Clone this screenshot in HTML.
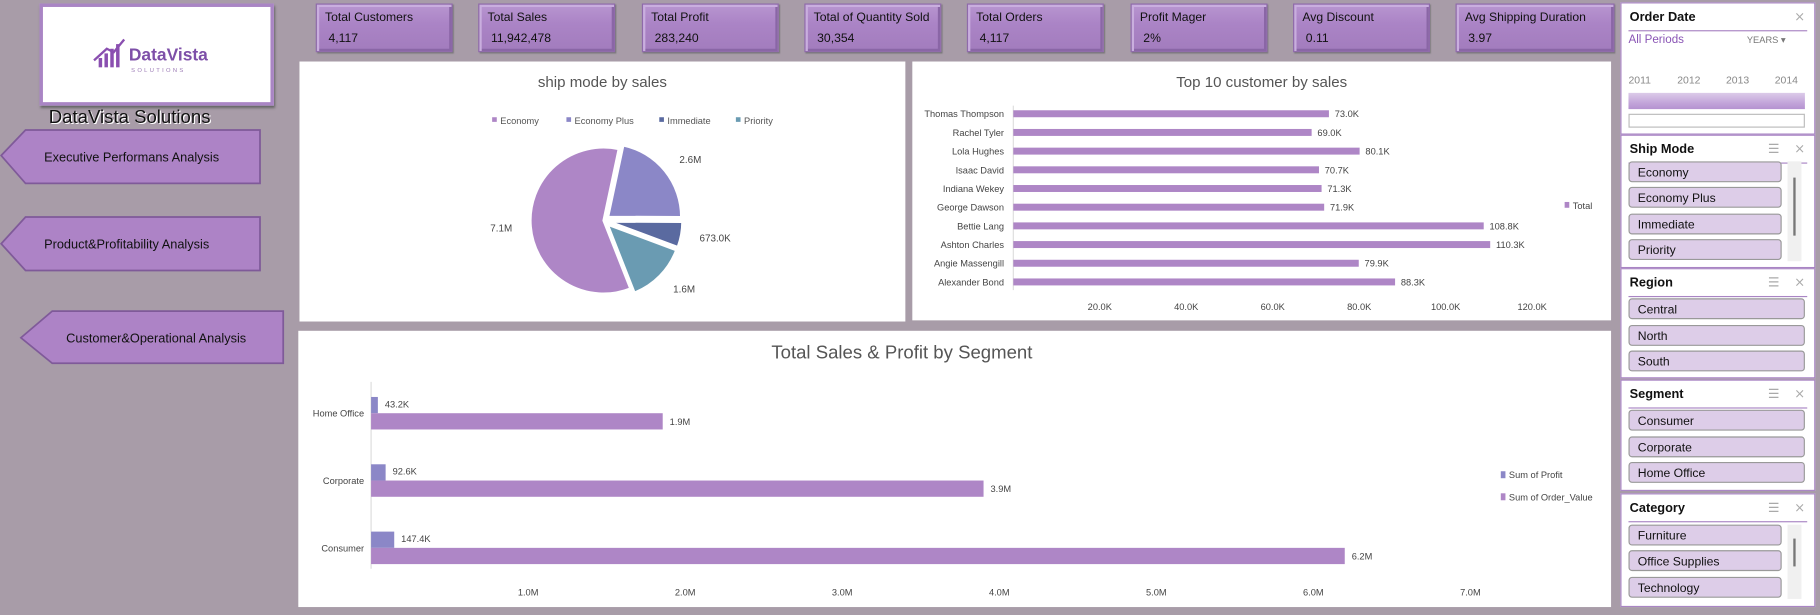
<!DOCTYPE html>
<html><head><meta charset="utf-8">
<style>
html,body{margin:0;padding:0;width:1820px;height:615px;overflow:hidden;background:#a89ca8;}
#root{position:absolute;left:0;top:0;width:1568px;height:530px;transform:scale(1.16071);transform-origin:0 0;font-family:"Liberation Sans",sans-serif;}
.abs{position:absolute;}
.kpi{position:absolute;top:3px;height:40px;background:linear-gradient(#b896d0,#ab84c6 40%,#a27cbd);border:1px solid #8f6aab;box-shadow:inset 2px 2px 0 #c9aede,inset -2px -2px 0 #8a66a6,1px 1px 1px #777;font-size:10.5px;color:#111;}
.kpi .t{position:absolute;left:7px;top:5px;}
.kpi .v{position:absolute;left:10px;top:23px;}
.panel{position:absolute;background:#fff;}
.slicer{position:absolute;left:1396px;width:166px;background:#fff;border:1px solid #a985c4;}
.slicer .h{position:absolute;left:7px;top:6px;font-size:11px;font-weight:bold;color:#111;}
.slicer .ln{position:absolute;left:6px;right:6px;top:23px;height:1px;background:#a985c4;}
.item{position:absolute;left:6px;height:18px;background:#ddcde8;border:1px solid #999;border-radius:3px;font-size:10.5px;line-height:18px;padding-left:7px;box-sizing:border-box;color:#111;}
.ico{position:absolute;top:5px;font-size:11px;color:#aaa;}
.nav{position:absolute;height:46px;}
</style></head><body>
<div id="root">
 <div class="abs" style="left:34px;top:3px;width:196px;height:82px;background:#fff;border:3px solid #a985c4;box-shadow:1px 2px 2px #666;">
  <svg width="196" height="82">
   <g fill="#8a4fb0"><rect x="48" y="44" width="3" height="8"/><rect x="53" y="40" width="3" height="12"/><rect x="58" y="36" width="3" height="16"/><rect x="63" y="32" width="3" height="20"/></g>
   <path d="M44 46 L55 36 L61 39 L70 28" stroke="#8a4fb0" stroke-width="2" fill="none"/>
   <text x="74" y="46" font-size="15" font-weight="bold" fill="#7d4fa8" font-family="Liberation Sans">DataVista</text>
   <text x="76" y="56" font-size="5" letter-spacing="2" fill="#9b7ab5" font-family="Liberation Sans">SOLUTIONS</text>
  </svg>
 </div>
 <div class="abs" style="left:42px;top:93px;font-size:16px;color:#111;text-shadow:1px 1px 0 #fff;">DataVista Solutions</div>

 <svg class="abs" style="left:0;top:110px" width="250" height="210">
  <g><polygon points="1,24 22,2 224,2 224,48 22,48" fill="#ad83c6" stroke="#7f5a99" stroke-width="1.5"/><text x="38" y="29" font-size="11" fill="#111" font-family="Liberation Sans">Executive Performans Analysis</text></g>
  <g><polygon points="1,100 22,77 224,77 224,123 22,123" fill="#ad83c6" stroke="#7f5a99" stroke-width="1.5"/><text x="38" y="104" font-size="11" fill="#111" font-family="Liberation Sans">Product&amp;Profitability Analysis</text></g>
  <g><polygon points="18,181 45,158 244,158 244,203 45,203" fill="#ad83c6" stroke="#7f5a99" stroke-width="1.5"/><text x="57" y="185" font-size="11" fill="#111" font-family="Liberation Sans">Customer&amp;Operational Analysis</text></g>
 </svg>

 <div class="kpi" style="left:272px;width:116px"><span class="t">Total Customers</span><span class="v">4,117</span></div>
 <div class="kpi" style="left:412px;width:116px"><span class="t">Total Sales</span><span class="v">11,942,478</span></div>
 <div class="kpi" style="left:553px;width:116px"><span class="t">Total Profit</span><span class="v">283,240</span></div>
 <div class="kpi" style="left:693px;width:116px"><span class="t">Total of Quantity Sold</span><span class="v">30,354</span></div>
 <div class="kpi" style="left:833px;width:116px"><span class="t">Total Orders</span><span class="v">4,117</span></div>
 <div class="kpi" style="left:974px;width:116px"><span class="t">Profit Mager</span><span class="v">2%</span></div>
 <div class="kpi" style="left:1114px;width:116px"><span class="t">Avg Discount</span><span class="v">0.11</span></div>
 <div class="kpi" style="left:1254px;width:135px"><span class="t">Avg Shipping Duration</span><span class="v">3.97</span></div>

 <div class="panel" style="left:258px;top:53px;width:522px;height:224px"><svg id="pie" width="522" height="224"></svg></div>
 <div class="panel" style="left:786px;top:53px;width:602px;height:223px"><svg id="top10" width="602" height="223"></svg></div>
 <div class="panel" style="left:257px;top:285px;width:1131px;height:238px"><svg id="seg" width="1131" height="238"></svg></div>

 <div class="slicer" style="top:2px;height:112px">
  <span class="h">Order Date</span><span class="ico" style="right:8px">⨯</span><div class="ln"></div>
  <span class="abs" style="left:6px;top:26px;font-size:10px;color:#8a55b5">All Periods</span>
  <span class="abs" style="left:108px;top:27px;font-size:8px;color:#777">YEARS ▾</span>
  <span class="abs" style="left:6px;top:61px;font-size:9px;color:#888">2011</span><span class="abs" style="left:48px;top:61px;font-size:9px;color:#888">2012</span><span class="abs" style="left:90px;top:61px;font-size:9px;color:#888">2013</span><span class="abs" style="left:132px;top:61px;font-size:9px;color:#888">2014</span>
  <div class="abs" style="left:6px;top:77px;width:152px;height:14px;background:linear-gradient(#dccbe9,#c3a6da 60%,#b592d0);"></div>
  <div class="abs" style="left:6px;top:95px;width:152px;height:12px;border:1px solid #bbb;box-sizing:border-box;"></div>
 </div>

 <div class="slicer" style="top:116px;height:113px">
  <span class="h">Ship Mode</span><span class="ico" style="right:30px">☰</span><span class="ico" style="right:8px">⨯</span><div class="ln"></div>
  <div class="item" style="top:22px;width:132px">Economy</div>
  <div class="item" style="top:44px;width:132px">Economy Plus</div>
  <div class="item" style="top:67px;width:132px">Immediate</div>
  <div class="item" style="top:89px;width:132px">Priority</div>
  <div class="abs" style="left:143px;top:22px;width:12px;height:86px;background:#f0f0f0"><div style="margin:14px 0 0 5px;width:2px;height:50px;background:#777"></div></div>
 </div>

 <div class="slicer" style="top:231px;height:93px">
  <span class="h">Region</span><span class="ico" style="right:30px">☰</span><span class="ico" style="right:8px">⨯</span><div class="ln"></div>
  <div class="item" style="top:25px;width:152px">Central</div>
  <div class="item" style="top:48px;width:152px">North</div>
  <div class="item" style="top:70px;width:152px">South</div>
 </div>

 <div class="slicer" style="top:327px;height:94px">
  <span class="h">Segment</span><span class="ico" style="right:30px">☰</span><span class="ico" style="right:8px">⨯</span><div class="ln"></div>
  <div class="item" style="top:25px;width:152px">Consumer</div>
  <div class="item" style="top:48px;width:152px">Corporate</div>
  <div class="item" style="top:70px;width:152px">Home Office</div>
 </div>

 <div class="slicer" style="top:425px;height:96px">
  <span class="h">Category</span><span class="ico" style="right:30px">☰</span><span class="ico" style="right:8px">⨯</span><div class="ln"></div>
  <div class="item" style="top:26px;width:132px">Furniture</div>
  <div class="item" style="top:48px;width:132px">Office Supplies</div>
  <div class="item" style="top:71px;width:132px">Technology</div>
  <div class="abs" style="left:143px;top:26px;width:12px;height:64px;background:#f0f0f0"><div style="margin:12px 0 0 5px;width:2px;height:24px;background:#777"></div></div>
 </div>
</div>
<script>
const NS='http://www.w3.org/2000/svg';
function mk(p,tag,a,txt){const e=document.createElementNS(NS,tag);for(const k in a)e.setAttribute(k,a[k]);if(txt!==undefined)e.textContent=txt;p.appendChild(e);return e;}

// ---------- Pie data ----------
const pieCats=['Economy','Economy Plus','Immediate','Priority'];
const pieVals=[7.1,2.6,0.673,1.6];
const pieLabels=['7.1M','2.6M','673.0K','1.6M'];
const pieColors=['#ae86c6','#8b87c7','#5a6aa0','#6a9bb2'];

// ---------- Top 10 data ----------
const custNames=['Thomas Thompson','Rachel Tyler','Lola Hughes','Isaac David','Indiana Wekey','George Dawson','Bettie Lang','Ashton Charles','Angie Massengill','Alexander Bond'];
const custVals=[73.0,69.0,80.1,70.7,71.3,71.9,108.8,110.3,79.9,88.3];
const custTicks=[20,40,60,80,100,120];

// ---------- Segment data ----------
const segCats=['Home Office','Corporate','Consumer'];
const segProfit=[0.0432,0.0926,0.1474];
const segProfitLabels=['43.2K','92.6K','147.4K'];
const segSales=[1.857,3.90,6.20];
const segSalesLabels=['1.9M','3.9M','6.2M'];
const segTicks=[1,2,3,4,5,6,7];

const F='Liberation Sans';
// Pie
(function(){
 const s=document.getElementById('pie');
 mk(s,'text',{x:261,y:22,'font-size':13,'text-anchor':'middle',fill:'#555','font-family':F},'ship mode by sales');
 const lx=[166,230,310,376];
 pieCats.forEach((c,i)=>{const g=mk(s,'g',{});
  mk(g,'rect',{x:lx[i],y:48,width:4,height:4,fill:pieColors[i]});mk(g,'text',{x:lx[i]+7,y:54,'font-size':8,fill:'#555','font-family':F},c);});
 const cx=262,cy=137,r=63,tot=pieVals.reduce((a,b)=>a+b,0);
 const order=[1,2,3,0];let ang=12;
 order.forEach(i=>{const sw=pieVals[i]/tot*360;const a0=ang,a1=ang+sw,mid=(a0+a1)/2*Math.PI/180;
  const ex=i===0?0:5;const ox=cx+ex*Math.sin(mid),oy=cy-ex*Math.cos(mid);
  const p=(a)=>[ox+r*Math.sin(a*Math.PI/180),oy-r*Math.cos(a*Math.PI/180)];
  const [x0,y0]=p(a0),[x1,y1]=p(a1);
  const e=mk(s,'path',{d:`M${ox},${oy}L${x0},${y0}A${r},${r} 0 ${sw>180?1:0} 1 ${x1},${y1}Z`,fill:pieColors[i],stroke:'#fff','stroke-width':2});
  
  
  const lr=r+16;let lxp=ox+lr*Math.sin(mid),lyp=oy-lr*Math.cos(mid)+3;
  mk(s,'text',{x:lxp,y:lyp,'font-size':8.5,fill:'#444','text-anchor':Math.sin(mid)>0.2?'start':(Math.sin(mid)<-0.2?'end':'middle'),'font-family':F},pieLabels[i]);
  ang=a1;});
})();
// Top 10
(function(){
 const s=document.getElementById('top10');
 mk(s,'text',{x:301,y:22,'font-size':13,'text-anchor':'middle',fill:'#555','font-family':F},'Top 10 customer by sales');
 const x0=87,k=3.725,y0=45,step=16.1;
 const X=v=>x0+v*k;
 mk(s,'line',{x1:x0,y1:38,x2:x0,y2:197,stroke:'#ddd'});
 custNames.forEach((n,i)=>{const yc=y0+i*step;
  mk(s,'text',{x:x0-8,y:yc+3,'font-size':8,'text-anchor':'end',fill:'#444','font-family':F},n);
  const b=mk(s,'rect',{x:x0,y:yc-3,width:X(custVals[i])-x0,height:6,fill:'#ae86c6'});
  
  
  mk(s,'text',{x:X(custVals[i])+5,y:yc+3,'font-size':8,fill:'#444','font-family':F},custVals[i].toFixed(1)+'K');});
 custTicks.forEach(t=>mk(s,'text',{x:X(t),y:214,'font-size':8,'text-anchor':'middle',fill:'#444','font-family':F},t.toFixed(1)+'K'));
 mk(s,'rect',{x:562,y:121,width:4,height:5,fill:'#ae86c6'});
 mk(s,'text',{x:569,y:127,'font-size':8,fill:'#444','font-family':F},'Total');
})();
// Segment
(function(){
 const s=document.getElementById('seg');
 mk(s,'text',{x:520,y:24,'font-size':16,'text-anchor':'middle',fill:'#555','font-family':F},'Total Sales & Profit by Segment');
 const x0=62.7,k=135.3;const X=v=>x0+v*k;
 const yc=[71,129,187];
 mk(s,'line',{x1:x0,y1:44,x2:x0,y2:205,stroke:'#ddd'});
 segCats.forEach((c,i)=>{
  mk(s,'text',{x:x0-6,y:yc[i]+3,'font-size':8,'text-anchor':'end',fill:'#444','font-family':F},c);
  const p=mk(s,'rect',{x:x0,y:yc[i]-14,width:X(segProfit[i])-x0,height:14,fill:'#8b87c7'});
  
  
  mk(s,'text',{x:X(segProfit[i])+6,y:yc[i]-5,'font-size':8,fill:'#444','font-family':F},segProfitLabels[i]);
  const b=mk(s,'rect',{x:x0,y:yc[i],width:X(segSales[i])-x0,height:14,fill:'#ae86c6'});
  
  
  mk(s,'text',{x:X(segSales[i])+6,y:yc[i]+10,'font-size':8,fill:'#444','font-family':F},segSalesLabels[i]);});
 segTicks.forEach(t=>mk(s,'text',{x:X(t),y:228,'font-size':8,'text-anchor':'middle',fill:'#444','font-family':F},t.toFixed(1)+'M'));
 mk(s,'rect',{x:1036,y:121,width:4,height:6,fill:'#8b87c7'});
 mk(s,'text',{x:1043,y:127,'font-size':8,fill:'#444','font-family':F},'Sum of Profit');
 mk(s,'rect',{x:1036,y:140,width:4,height:6,fill:'#ae86c6'});
 mk(s,'text',{x:1043,y:146,'font-size':8,fill:'#444','font-family':F},'Sum of Order_Value');
})();
</script>
</body></html>
